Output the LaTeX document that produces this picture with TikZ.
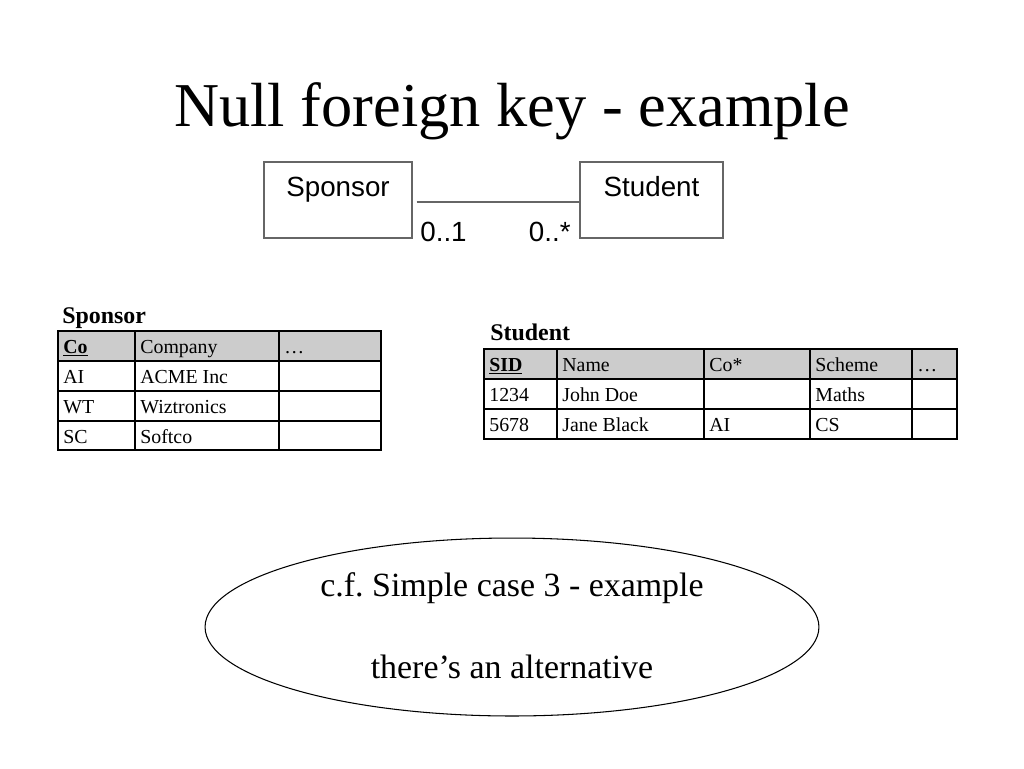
\documentclass[tikz,border=0pt]{standalone}
\usepackage{fontspec}
\setmainfont{Liberation Serif}
\newfontfamily\umlfont{Liberation Sans}
\usetikzlibrary{positioning}
\usetikzlibrary{shapes.geometric}

\begin{document}
\begin{tikzpicture}[x=0.02cm, y=-0.02cm,
    umlbox/.style={draw=black!60, line width=0.6pt, minimum width=2.96cm, minimum height=1.52cm, inner sep=0pt},
    umltext/.style={inner sep=0pt, font=\umlfont\fontsize{15.8}{18}\selectfont},
    cell/.style={anchor=base west, inner sep=0pt, font=\fontsize{11.3}{13}\selectfont},
    tablename/.style={anchor=base west, inner sep=0pt, font=\bfseries\fontsize{13.6}{16}\selectfont},
    grid/.style={line width=1.2pt},
    header/.style={fill=black!20},
    notetext/.style={anchor=base, inner sep=0pt, font=\fontsize{19.3}{22}\selectfont}]
    \useasboundingbox (0,0) rectangle (1024,768);

    % title
    \node (title) [anchor=base, inner sep=0pt, font=\fontsize{35.5}{40}\selectfont] at (512,126) {Null foreign key - example};

    % class diagram
    \node (sponsor) [umlbox] at (338,200) {};
    \node (student) [umlbox, minimum width=2.86cm] at (651.5,200) {};
    \node (sponsorname) [umltext, below=0.3cm of sponsor.north] {Sponsor};
    \node (studentname) [umltext, below=0.3cm of student.north] {Student};
    \draw [black!60, line width=0.6pt] ([xshift=0.08cm, yshift=-0.04cm]sponsor.east) -- ([yshift=-0.04cm]student.west);
    \node (mult1) [umltext, anchor=base west] at (420,241) {0..1};
    \node (mult2) [umltext, anchor=base east] at (571,241) {0..*};

    % Sponsor table
    \node (sptitle) [tablename] at (62,323) {Sponsor};
    \fill [header] (58,331) rectangle (381,361);
    \draw [grid] (58,331) rectangle (381,450);
    \foreach \y in {361,391,421}
        \draw [grid] (58,\y) -- (381,\y);
    \foreach \x in {135,279}
        \draw [grid] (\x,331) -- (\x,450);
    \node (spco) [cell] at (63,353) {\textbf{\underline{Co}}};
    \node (spcompany) [cell] at (140,353) {Company};
    \node (spmore) [cell] at (284,353) {…};
    \foreach \y/\a/\b in {383/AI/ACME Inc, 413/WT/Wiztronics, 443/SC/Softco} {
        \node (sp-\a) [cell] at (63,\y) {\a};
        \node (sp-\a-name) [cell] at (140,\y) {\b};
    }

    % Student table
    \node (sttitle) [tablename] at (490,340) {Student};
    \fill [header] (484,349) rectangle (957,379);
    \draw [grid] (484,349) rectangle (957,439);
    \foreach \y in {379,409}
        \draw [grid] (484,\y) -- (957,\y);
    \foreach \x in {557,704,810,912}
        \draw [grid] (\x,349) -- (\x,439);
    \node (stsid) [cell] at (489,371) {\textbf{\underline{SID}}};
    \node (stname) [cell] at (562,371) {Name};
    \node (stco) [cell] at (709,371) {Co*};
    \node (stscheme) [cell] at (815,371) {Scheme};
    \node (stmore) [cell] at (917,371) {…};
    \foreach \y/\s/\n/\c/\m in {401/1234/John Doe//Maths, 431/5678/Jane Black/AI/CS} {
        \node (st-\s) [cell] at (489,\y) {\s};
        \node (st-\s-name) [cell] at (562,\y) {\n};
        \node (st-\s-co) [cell] at (709,\y) {\c};
        \node (st-\s-scheme) [cell] at (815,\y) {\m};
    }

    % note
    \node (note) [ellipse, draw, line width=0.6pt, minimum width=12.28cm, minimum height=3.56cm, inner sep=0pt] at (512,627) {};
    \node (note1) [notetext] at (512,596) {c.f.\ Simple case 3 - example};
    \node (note2) [notetext] at (512,678) {there’s an alternative};
\end{tikzpicture}
\end{document}
